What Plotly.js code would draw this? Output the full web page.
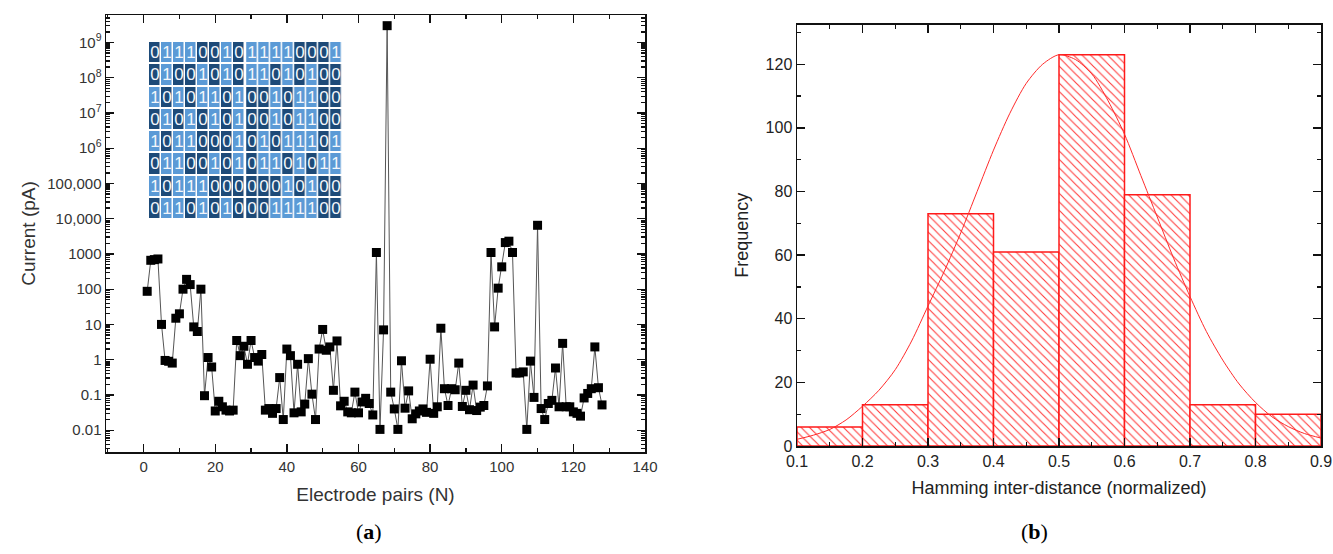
<!DOCTYPE html>
<html>
<head>
<meta charset="utf-8">
<script src="https://cdn.plot.ly/plotly-3.0.1.min.js"></script>
<style>html,body{margin:0;padding:0;background:#fff;}#chart{width:1333px;height:554px;}</style>
</head>
<body>
<div id="chart"></div>
<script>
// ---------- Panel (a): current vs electrode pair ----------
const electrodePairs = [1,2,3,4,5,6,7,8,9,10,11,12,13,14,15,16,17,18,19,20,21,22,23,24,25,26,27,28,29,30,31,32,33,34,35,36,37,38,39,40,41,42,43,44,45,46,47,48,49,50,51,52,53,54,55,56,57,58,59,60,61,62,63,64,65,66,67,68,69,70,71,72,73,74,75,76,77,78,79,80,81,82,83,84,85,86,87,88,89,90,91,92,93,94,95,96,97,98,99,100,101,102,103,104,105,106,107,108,109,110,111,112,113,114,115,116,117,118,119,120,121,122,123,124,125,126,127,128];
const currentPA = [87,660,690,720,10,0.95,0.9,0.8,15,20,
  100,190,135,8.5,6.3,100,0.095,1.15,0.62,0.035,
  0.066,0.046,0.037,0.035,0.037,3.5,1.3,2.4,0.74,3.5,
  1.15,0.91,1.4,0.037,0.041,0.03,0.041,0.31,0.02,2.0,
  1.3,0.031,0.74,0.033,0.055,1.07,0.105,0.02,2.0,7.2,
  1.85,2.3,0.135,3.4,0.049,0.066,0.033,0.031,0.12,0.031,
  0.063,0.08,0.057,0.027,1100,0.0105,7,3e9,0.12,0.04,
  0.0105,0.93,0.042,0.13,0.021,0.029,0.035,0.04,0.032,1.03,
  0.03,0.046,7.8,0.15,0.05,0.15,0.14,0.8,0.047,0.135,
  0.038,0.19,0.036,0.045,0.05,0.18,1100,8.5,107,430,
  2100,2300,1100,0.42,0.42,0.45,0.0105,0.91,0.085,6500,
  0.041,0.02,0.057,0.07,0.58,0.046,2.9,0.046,0.046,0.033,
  0.03,0.025,0.082,0.11,0.15,2.3,0.16,0.052];
const yTickVals = [0.01,0.1,1,10,100,1000,1e4,1e5,1e6,1e7,1e8,1e9];
const yTickText = ['0.01','0.1','1','10','100','1000','10,000','100,000','10<sup>6</sup>','10<sup>7</sup>','10<sup>8</sup>','10<sup>9</sup>'];

// Inset: binary key grid (8 rows x 16 bits)
const gridRows = [
  '0111001011110001',
  '0100101011010100',
  '1010110100101100',
  '0101010100101100',
  '1011000101011101',
  '0110010101101011',
  '1011100000010100',
  '0110101000111100'
];

// ---------- Panel (b): Hamming inter-distance histogram ----------
const binCenters = [0.15,0.25,0.35,0.45,0.55,0.65,0.75,0.85];
const frequency = [6,13,73,61,123,79,13,10];
const fitX = [0.1,0.125,0.15,0.175,0.2,0.225,0.25,0.275,0.3,0.325,0.35,0.375,0.4,0.425,0.45,0.475,0.5,
              0.525,0.55,0.575,0.6,0.625,0.65,0.675,0.7,0.725,0.75,0.775,0.8,0.825,0.85,0.875,0.9];
const fitY = [2.1,3.4,5.2,8.2,12.5,17.5,24,33,44,55,67,80,93,104.6,114,120,123,
              121.5,117,108.5,98,85,72,59,47,36,27,19.5,13.7,9.2,6.1,3.9,2.5];

// ---------- build ----------
const leftHalf = gridRows.map(r => r.slice(0,8).split('').map(Number));
const rightHalf = gridRows.map(r => r.slice(8).split('').map(Number));
const rowIdx = gridRows.map((r,i)=>i);
const colsL = [0,1,2,3,4,5,6,7];
const colsR = [8.12,9.12,10.12,11.12,12.12,13.12,14.12,15.12];

const minorLog = [];
for (let e=-3; e<=9; e++) for (let m=2; m<=9; m++) minorLog.push(m*Math.pow(10,e));

const H = 554, W = 1333;
const heatCommon = {
  type:'heatmap', xaxis:'x3', yaxis:'y3', zmin:0, zmax:1, showscale:false,
  colorscale:[[0,'#1d4a78'],[0.5,'#1d4a78'],[0.5,'#5b9ad6'],[1,'#5b9ad6']],
  xgap:1.5, ygap:2, texttemplate:'%{z}', textfont:{color:'#f2f6fb', size:17, family:'Liberation Sans, Arial, sans-serif'},
  hoverinfo:'skip'
};

const data = [
  {type:'scatter', mode:'lines+markers', x:electrodePairs, y:currentPA, xaxis:'x', yaxis:'y',
   line:{color:'#555', width:1}, marker:{symbol:'square', size:9, color:'#000'}, hoverinfo:'x+y'},
  Object.assign({}, heatCommon, {x:colsL, y:rowIdx, z:leftHalf}),
  Object.assign({}, heatCommon, {x:colsR, y:rowIdx, z:rightHalf}),
  {type:'bar', x:binCenters, y:frequency, width:0.1, xaxis:'x2', yaxis:'y2',
   marker:{color:'white', line:{color:'#ff1a1a', width:1.5},
           pattern:{shape:'\\', fgcolor:'#ff3a3a', bgcolor:'white', size:6, solidity:0.18}}},
  {type:'scatter', mode:'lines', x:fitX, y:fitY, xaxis:'x2', yaxis:'y2',
   line:{color:'#ff2a2a', width:1, shape:'spline', smoothing:0.8}}
];

const axBase = {showline:true, linecolor:'#111', linewidth:1.5, mirror:'allticks', ticks:'inside',
  tickcolor:'#111', tickwidth:1.3, showgrid:false, zeroline:false};

const layout = {
  width:W, height:H, margin:{l:0,r:0,t:0,b:0}, showlegend:false,
  paper_bgcolor:'#fff', plot_bgcolor:'#fff', bargap:0,
  font:{family:'Liberation Sans, Arial, sans-serif', color:'#222'},
  xaxis: Object.assign({}, axBase, {domain:[106/W, 645/W], anchor:'y', range:[-10.5,140],
    tick0:0, dtick:20, ticklen:8, minor:{ticks:'inside', ticklen:4, dtick:10, tickcolor:'#111'},
    tickfont:{size:15, color:'#333'},
    title:{text:'Electrode pairs (N)', font:{size:19, color:'#333'}, standoff:14}}),
  yaxis: Object.assign({}, axBase, {domain:[(H-452)/H, (H-15)/H], anchor:'x', type:'log',
    range:[-2.62, 9.78], tickmode:'array', tickvals:yTickVals, ticktext:yTickText, ticklen:8,
    minor:{ticks:'inside', ticklen:4, tickmode:'array', tickvals:minorLog, tickcolor:'#111'},
    tickfont:{size:15, color:'#333'},
    title:{text:'Current (pA)', font:{size:19, color:'#333'}, standoff:6}}),
  xaxis3:{domain:[149/W, 342/W], anchor:'y3', visible:false, range:[-0.5, 15.62], fixedrange:true},
  yaxis3:{domain:[(H-219)/H, (H-41)/H], anchor:'x3', visible:false, range:[7.5,-0.5], fixedrange:true},
  xaxis2: Object.assign({}, axBase, {domain:[797/W, 1321/W], anchor:'y2', range:[0.1,0.9],
    tick0:0.1, dtick:0.1, ticklen:8, minor:{ticks:'inside', ticklen:4, dtick:0.05, tick0:0.1, tickcolor:'#111'},
    tickfont:{size:16, color:'#222'},
    title:{text:'Hamming inter-distance (normalized)', font:{size:18, color:'#222'}, standoff:12}}),
  yaxis2: Object.assign({}, axBase, {domain:[(H-446)/H, (H-24.5)/H], anchor:'x2', range:[0,132.5],
    tick0:0, dtick:20, ticklen:8, minor:{ticks:'inside', ticklen:4, dtick:10, tickcolor:'#111'},
    tickfont:{size:16, color:'#222'},
    title:{text:'Frequency', font:{size:18, color:'#222'}, standoff:12}}),
  annotations:[
    {text:'(<b>a</b>)', xref:'paper', yref:'paper', x:369/W, y:(H-531)/H, yanchor:'middle', xanchor:'center', showarrow:false,
     font:{family:'Liberation Serif, Times New Roman, serif', size:22, color:'#000'}},
    {text:'(<b>b</b>)', xref:'paper', yref:'paper', x:1034/W, y:(H-531)/H, yanchor:'middle', xanchor:'center', showarrow:false,
     font:{family:'Liberation Serif, Times New Roman, serif', size:22, color:'#000'}}
  ]
};

Plotly.newPlot('chart', data, layout, {staticPlot:true, displayModeBar:false});
</script>
</body>
</html>
